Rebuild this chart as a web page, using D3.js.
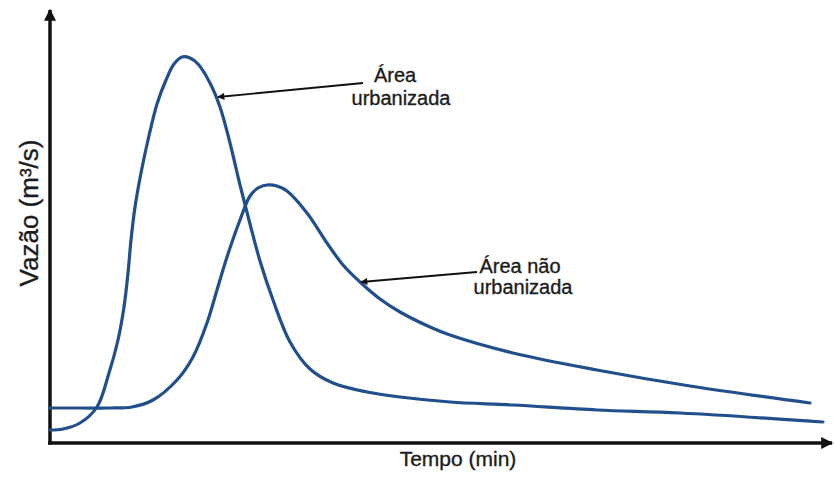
<!DOCTYPE html>
<html>
<head>
<meta charset="utf-8">
<script src="https://cdn.jsdelivr.net/npm/d3@7"></script>
<style>
  html, body { margin: 0; padding: 0; background: #fff; }
  svg { display: block; font-family: "Liberation Sans", Arial, sans-serif; }
</style>
</head>
<body>
<div id="chart"></div>
<script>
// Hydrograph values (time and flow in arbitrary units)
const urbanTime = [0, 3.25, 7.5, 11.75, 14.75, 17, 18.5, 19.5, 20.25, 21.25, 22.75, 24.5, 26.75, 29, 31, 33, 35, 37, 40, 42.5, 45, 47.5, 50, 52.5, 55.75, 60, 65, 70.75, 79.25, 87.5, 100, 115.75, 136.75, 157.5, 193.25];
const urbanFlow = [3.25, 3.5, 5, 9, 17.5, 25.75, 34, 42.5, 50.75, 59, 67.5, 75.75, 84.75, 90.75, 94.75, 96.5, 96.25, 94.75, 90, 84, 75, 64.5, 54.75, 45.5, 35.75, 25.25, 18.5, 15, 12.75, 11.5, 10.25, 9.5, 8.25, 7.5, 5.25];

const ruralTime = [0, 8, 15, 20.5, 25.75, 31.75, 35.75, 39.25, 41.75, 44.25, 47.5, 50, 52, 54.25, 56.75, 59.25, 64.25, 69.25, 73.25, 77.5, 82.5, 87.5, 95, 100, 115.75, 136.75, 160, 190];
const ruralFlow = [8.75, 8.75, 8.75, 9, 10.75, 15.75, 21.5, 30, 38.25, 46.5, 55.75, 61.75, 63.75, 64.5, 64.25, 63, 57.5, 50, 44.5, 40.25, 36, 32.75, 29, 27, 22.5, 18.25, 14.25, 10];

const xLabel = "Tempo (min)";
const yLabel = "Vazão (m³/s)";

const urbanNote = ["Área", "urbanizada"];
const urbanTip = [41.75, 86.5];
const urbanTail = [78.25, 90];

const ruralNote = ["Área não", "urbanizada"];
const ruralTip = [77.5, 40.25];
const ruralTail = [106.75, 42.75];

const width = 834, height = 483;
const margin = { top: 13, right: 4, bottom: 40, left: 50 };

const svg = d3.select("#chart").append("svg")
    .attr("width", width)
    .attr("height", height);

const x = d3.scaleLinear()
    .domain([0, 195])
    .range([margin.left, margin.left + 780]);
const y = d3.scaleLinear()
    .domain([0, 107.5])
    .range([height - margin.bottom, margin.top]);

const defs = svg.append("defs");
defs.append("marker")
    .attr("id", "axisHead")
    .attr("viewBox", "0 0 10 10")
    .attr("refX", 9).attr("refY", 5)
    .attr("markerUnits", "userSpaceOnUse")
    .attr("markerWidth", 18).attr("markerHeight", 12)
    .attr("orient", "auto")
    .append("path").attr("d", "M0,0 L10,5 L0,10 Z").attr("fill", "#111");
defs.append("marker")
    .attr("id", "noteHead")
    .attr("viewBox", "0 0 10 10")
    .attr("refX", 9).attr("refY", 5)
    .attr("markerUnits", "userSpaceOnUse")
    .attr("markerWidth", 10).attr("markerHeight", 7)
    .attr("orient", "auto")
    .append("path").attr("d", "M0,0 L10,5 L0,10 Z").attr("fill", "#111");

// axes with arrow heads
const x0 = x(0), y0 = y(0);
svg.append("line")
    .attr("x1", x0 - 2).attr("y1", y0)
    .attr("x2", x.range()[1] + 2).attr("y2", y0)
    .attr("stroke", "#111").attr("stroke-width", 3.5)
    .attr("marker-end", "url(#axisHead)");
svg.append("line")
    .attr("x1", x0).attr("y1", y0 + 1.5)
    .attr("x2", x0).attr("y2", y.range()[1] - 3)
    .attr("stroke", "#111").attr("stroke-width", 3.5)
    .attr("marker-end", "url(#axisHead)");

// curves
const line = d3.line()
    .x(d => x(d[0]))
    .y(d => y(d[1]))
    .curve(d3.curveCatmullRom.alpha(0.5));

const series = [
    d3.zip(urbanTime, urbanFlow),
    d3.zip(ruralTime, ruralFlow)
];

svg.selectAll("path.curve")
    .data(series)
    .enter().append("path")
    .attr("class", "curve")
    .attr("d", line)
    .attr("fill", "none")
    .attr("stroke", "#214f8c")
    .attr("stroke-width", 3.2)
    .attr("stroke-linecap", "round");

// annotations
function annotate(tail, tip, lines, centers, baseY, gap) {
    svg.append("line")
        .attr("x1", x(tail[0])).attr("y1", y(tail[1]))
        .attr("x2", x(tip[0]) + 1).attr("y2", y(tip[1]))
        .attr("stroke", "#111").attr("stroke-width", 1.8)
        .attr("marker-end", "url(#noteHead)");
    svg.append("g").selectAll("text")
        .data(lines)
        .enter().append("text")
        .attr("x", (d, i) => centers[i])
        .attr("y", (d, i) => baseY + i * gap)
        .attr("text-anchor", "middle")
        .attr("font-size", 20)
        .attr("fill", "#1c1c1c")
        .attr("stroke", "#1c1c1c")
        .attr("stroke-width", 0.35)
        .text(d => d);
}

const ut = x(urbanTail[0]);
annotate(urbanTail, urbanTip, urbanNote, [ut + 32, ut + 38], y(urbanTail[1]) - 1, 23);
const rt = x(ruralTail[0]);
annotate(ruralTail, ruralTip, ruralNote, [rt + 43, rt + 46], y(ruralTail[1]) + 1, 21);

// axis titles
svg.append("text")
    .attr("x", 458)
    .attr("y", 466)
    .attr("text-anchor", "middle")
    .attr("font-size", 21)
    .attr("fill", "#1c1c1c")
    .attr("stroke", "#1c1c1c")
    .attr("stroke-width", 0.35)
    .text(xLabel);

svg.append("text")
    .attr("transform", "translate(38,213) rotate(-90)")
    .attr("text-anchor", "middle")
    .attr("font-size", 26)
    .attr("fill", "#1c1c1c")
    .attr("stroke", "#1c1c1c")
    .attr("stroke-width", 0.35)
    .text(yLabel);
</script>
</body>
</html>
